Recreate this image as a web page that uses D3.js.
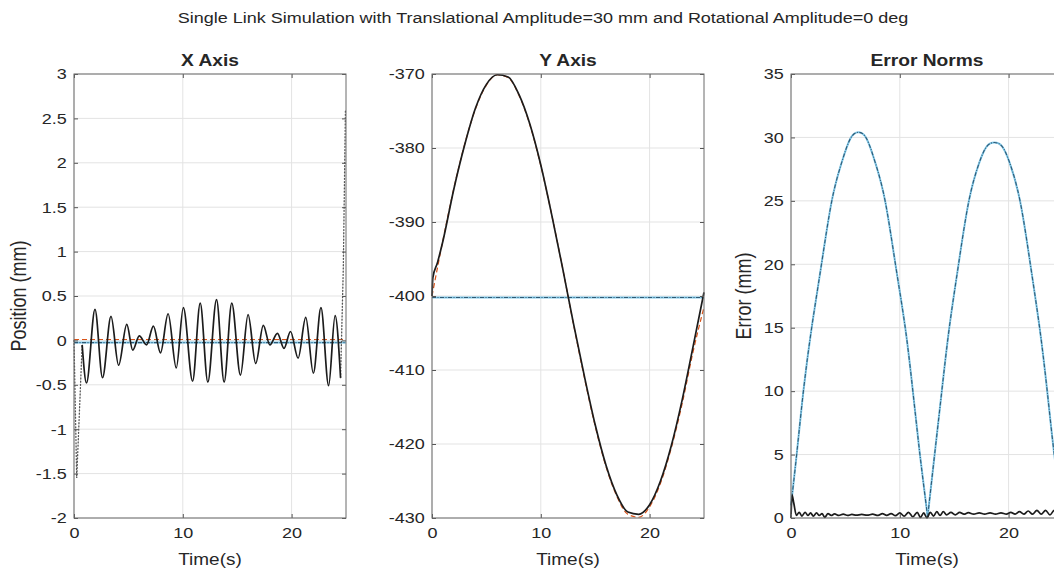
<!DOCTYPE html>
<html>
<head>
<meta charset="utf-8">
<script src="https://cdn.jsdelivr.net/npm/d3@7"></script>
<style>
  body { margin: 0; background: #fff; }
  text { font-family: "Liberation Sans", Arial, sans-serif; fill: #262626; }
</style>
</head>
<body>
<script>
// ---- data ----
var timeTicks = [0, 10, 20];
var posTicks = [-2, -1.5, -1, -0.5, 0, 0.5, 1, 1.5, 2, 2.5, 3];
var yPosTicks = [-430, -420, -410, -400, -390, -380, -370];
var errTicks = [0, 5, 10, 15, 20, 25, 30, 35];

// X axis: measured position (solid part), fast transients (dotted), references
var xMeasured = [[0.75,-0.05],[1.15,-0.48],[1.93,0.35],[2.62,-0.42],[3.4,0.27],[4.1,-0.28],[4.85,0.18],
  [5.4,-0.11],[6.0,0.05],[6.67,-0.05],[7.3,0.16],[7.95,-0.14],[8.65,0.30],[9.4,-0.31],[10.05,0.37],
  [10.9,-0.46],[11.6,0.42],[12.3,-0.47],[13.1,0.46],[13.8,-0.47],[14.5,0.42],[15.3,-0.39],[16.0,0.29],
  [16.7,-0.26],[17.4,0.17],[18.0,-0.05],[18.7,0.08],[19.3,-0.09],[19.9,0.10],[20.6,-0.20],[21.3,0.26],
  [22.0,-0.37],[22.7,0.37],[23.4,-0.51],[24.0,0.28],[24.5,-0.42]];
var xStartJump = [[0,0.0],[0.25,-1.55],[0.75,-0.05]];
var xEndJump = [[24.5,-0.42],[24.75,0.8],[24.95,2.6]];
var xDesired = [[0,0.01],[25,0.01]];
var xEstimate = [[0,-0.025],[25,-0.025]];

// Y axis
var yDesired = [[0,-400],[1,-392.5],[2,-385.5],[3,-379.5],[4,-374.7],[5,-371.5],[6,-370.1],[7,-370.5],
  [8,-372.9],[9,-376.9],[10,-382.4],[11,-389.0],[12,-396.2],[13,-403.8],[14,-411.0],[15,-417.6],
  [16,-423.1],[17,-427.1],[18,-429.5],[19,-429.9],[20,-428.5],[21,-425.3],[22,-420.5],[23,-414.5],
  [24,-407.5],[25,-401.5]];
var yMeasured = [[0,-400],[0.08,-397.5],[0.5,-395.5],[1,-392.6],[2,-385.6],[3,-379.6],[4,-374.6],[5,-371.4],
  [6,-370.1],[7,-370.4],[8,-372.8],[9,-376.8],[10,-382.3],[11,-389.0],[12,-396.2],[13,-403.7],[14,-410.8],
  [15,-417.4],[16,-422.9],[17,-426.9],[18,-429.2],[19,-429.5],[20,-428.2],[21,-425.0],[22,-420.2],
  [23,-414.0],[24,-406.8],[25,-399.5]];
var yEstimate = [[0,-400.2],[25,-400.2]];

// Error norms
var errArch1 = [[0,1.0],[0.52,5],[1.14,10],[1.9,15],[2.8,20],[3.75,25],[4.65,28],[5.45,29.9],[6.2,30.4],
  [6.95,29.9],[7.75,28],[8.65,25],[9.6,20],[10.5,15],[11.2,10],[11.85,5],[12.56,0.1]];
var errArch2 = [[12.56,0.1],[13.2,5],[13.86,10],[14.55,15],[15.4,20],[16.35,25],[17.3,28],[18.0,29.3],
  [18.7,29.6],[19.4,29.3],[20.1,28],[21.05,25],[22.0,20],[22.85,15],[23.55,10],[24.2,5],[24.8,1.5]];
var errMeasured = [[0,0],[0.1,1.8],[0.25,1.2],[0.5,0.2],[0.75,0.45],[1.0,0.15],[1.3,0.45],[1.55,0.2],
  [1.8,0.4],[2.05,0.15],[2.35,0.4],[2.6,0.2],[2.85,0.35],[3.1,0.05],[3.4,0.35],[3.7,0.2],[4.0,0.32],
  [4.4,0.2],[4.8,0.3],[5.2,0.2],[5.6,0.28],[6.0,0.22],[6.5,0.28],[7.0,0.22],[7.5,0.3],[8.0,0.2],
  [8.4,0.35],[8.8,0.2],[9.2,0.35],[9.6,0.18],[10.0,0.4],[10.4,0.15],[10.8,0.45],[11.2,0.1],[11.6,0.45],
  [11.9,0.05],[12.2,0.4],[12.5,0.0],[12.8,0.45],[13.1,0.15],[13.4,0.5],[13.7,0.2],[14.0,0.5],[14.3,0.25],
  [14.7,0.45],[15.1,0.25],[15.5,0.45],[15.9,0.3],[16.3,0.42],[16.8,0.3],[17.3,0.4],[17.8,0.3],[18.3,0.4],
  [18.8,0.3],[19.3,0.4],[19.8,0.3],[20.2,0.45],[20.6,0.3],[21.0,0.5],[21.4,0.3],[21.8,0.55],[22.2,0.3],
  [22.6,0.6],[23.0,0.3],[23.4,0.6],[23.8,0.25],[24.2,0.6],[24.6,0.25],[25,0.5]];

// ---- drawing ----
var W = 1054, H = 574;
var plotTop = 74, plotBottom = 518, pw = 272;
var sx = 1.2; // the picture's text is a little wide

var svg = d3.select("body").append("svg")
    .attr("width", W).attr("height", H);
svg.append("rect").attr("width", W).attr("height", H).attr("fill", "#fff");

svg.append("text")
    .attr("transform", "translate(543,23) scale(" + sx + ",1)")
    .attr("text-anchor", "middle")
    .style("font-size", "15px")
    .text("Single Link Simulation with Translational Amplitude=30 mm and Rotational Amplitude=0 deg");

var styles = {
  black: { stroke: "#1c1c1c", width: 1.7, dash: null },
  dotted: { stroke: "#555", width: 1.3, dash: "1,2.2" },
  red: { stroke: "#D95319", width: 1.2, dash: "5,3" },
  blueUnder: { stroke: "#7fc6e6", width: 2, dash: null },
  blueOver: { stroke: "#2f5a75", width: 1.1, dash: "4,1.5,1,1.5" }
};

function panel(left, yDomain, yTicks, title, ylabel, series) {
  var h = plotBottom - plotTop;
  var x = d3.scaleLinear().domain([0, 25]).range([0, pw]);
  var y = d3.scaleLinear().domain(yDomain).range([h, 0]);

  var g = svg.append("g").attr("transform", "translate(" + left + "," + plotTop + ")");

  // grid
  g.selectAll(".gx").data(timeTicks).enter().append("line")
      .attr("x1", function (d) { return x(d); }).attr("x2", function (d) { return x(d); })
      .attr("y1", 0).attr("y2", h)
      .attr("stroke", "#e3e3e3");
  g.selectAll(".gy").data(yTicks).enter().append("line")
      .attr("x1", 0).attr("x2", pw)
      .attr("y1", function (d) { return y(d); }).attr("y2", function (d) { return y(d); })
      .attr("stroke", "#e3e3e3");

  // lines
  series.forEach(function (s) {
    var st = styles[s.style];
    var line = d3.line()
        .x(function (d) { return x(d[0]); })
        .y(function (d) { return y(d[1]); })
        .curve(s.curve || d3.curveMonotoneX);
    g.append("path").datum(s.data)
        .attr("d", line)
        .attr("fill", "none")
        .attr("stroke", st.stroke)
        .attr("stroke-width", st.width)
        .attr("stroke-dasharray", st.dash)
        .attr("stroke-linecap", s.style === "dotted" ? "round" : "butt");
  });

  // axes with inward ticks
  var fmt = function (d) { return String(d); };
  var ax = g.append("g").attr("transform", "translate(0," + h + ")")
      .call(d3.axisBottom(x).tickValues(timeTicks).tickSize(-4).tickSizeOuter(0).tickPadding(9).tickFormat(fmt));
  var ay = g.append("g")
      .call(d3.axisLeft(y).tickValues(yTicks).tickSize(-4).tickSizeOuter(0).tickPadding(6).tickFormat(fmt));
  var at = g.append("g")
      .call(d3.axisTop(x).tickValues(timeTicks).tickSize(-4).tickSizeOuter(0).tickFormat(""));
  var ar = g.append("g").attr("transform", "translate(" + pw + ",0)")
      .call(d3.axisRight(y).tickValues(yTicks).tickSize(-4).tickSizeOuter(0).tickFormat(""));
  [ax, ay, at, ar].forEach(function (a) {
    a.select(".domain").remove();
    a.selectAll("line").attr("stroke", "#555");
    a.selectAll("text")
        .style("font-size", "15px")
        .style("font-family", "Liberation Sans, Arial, sans-serif")
        .attr("fill", "#262626")
        .attr("transform", "scale(" + sx + ",1)");
  });

  g.append("rect").attr("width", pw).attr("height", h)
      .attr("fill", "none").attr("stroke", "#6a6a6a").attr("stroke-width", 1);

  g.append("text")
      .attr("transform", "translate(" + (pw / 2) + ",-8) scale(" + sx + ",1)")
      .attr("text-anchor", "middle")
      .style("font-size", "16px").style("font-weight", "bold")
      .attr("fill", "#000")
      .text(title);

  g.append("text")
      .attr("transform", "translate(" + (pw / 2) + "," + (h + 47) + ") scale(1.15,1)")
      .attr("text-anchor", "middle")
      .style("font-size", "16.5px")
      .text("Time(s)");

  if (ylabel) {
    g.append("text")
        .attr("transform", "translate(" + ylabel.dx + "," + (h / 2) + ") rotate(-90) scale(1," + sx + ")")
        .attr("text-anchor", "middle")
        .style("font-size", "18px")
        .text(ylabel.text);
  }
}

panel(74, [-2, 3], posTicks, "X Axis", { text: "Position (mm)", dx: -48 }, [
  { data: xDesired, style: "red", curve: d3.curveLinear },
  { data: xEstimate, style: "blueUnder", curve: d3.curveLinear },
  { data: xEstimate, style: "blueOver", curve: d3.curveLinear },
  { data: xStartJump, style: "dotted", curve: d3.curveLinear },
  { data: xEndJump, style: "dotted", curve: d3.curveLinear },
  { data: xMeasured, style: "black" }
]);

panel(432, [-430, -370], yPosTicks, "Y Axis", null, [
  { data: yEstimate, style: "blueUnder", curve: d3.curveLinear },
  { data: yEstimate, style: "blueOver", curve: d3.curveLinear },
  { data: yDesired, style: "red" },
  { data: yMeasured, style: "black" }
]);

panel(791, [0, 35], errTicks, "Error Norms", { text: "Error (mm)", dx: -40 }, [
  { data: errArch1, style: "blueUnder", curve: d3.curveNatural },
  { data: errArch1, style: "blueOver", curve: d3.curveNatural },
  { data: errArch2, style: "blueUnder", curve: d3.curveNatural },
  { data: errArch2, style: "blueOver", curve: d3.curveNatural },
  { data: errMeasured, style: "black" }
]);
</script>
</body>
</html>
